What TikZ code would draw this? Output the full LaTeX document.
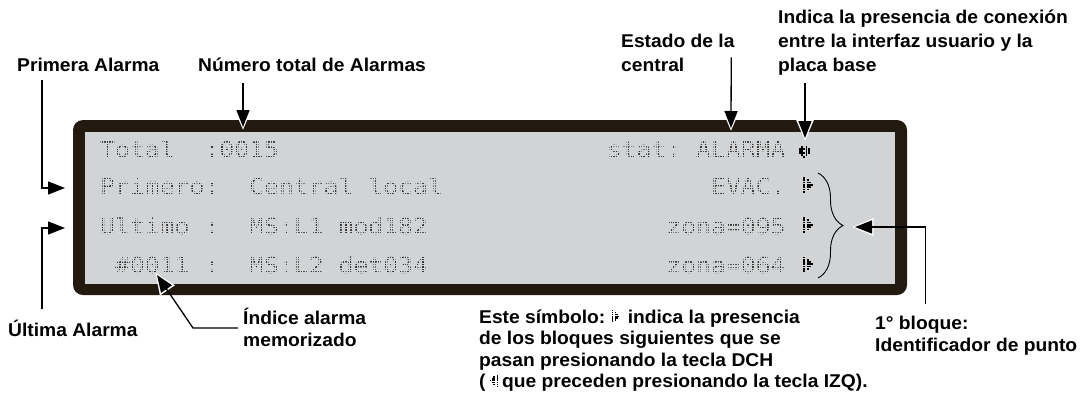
\documentclass[tikz,border=0pt]{standalone}
\usepackage{fontspec}
\setmainfont{Liberation Sans}[FakeStretch=1.04]
\newfontfamily\lcdfont{DejaVu Sans Mono}[FakeStretch=1.125]
\usetikzlibrary{arrows.meta,decorations.pathreplacing,calc}
\definecolor{framec}{HTML}{221A0E}
\definecolor{lcdbg}{HTML}{D1D3D4}
\definecolor{lcdtxt}{HTML}{383838}
\tikzset{
  lbl/.style={font=\fontsize{18.5}{21.5}\selectfont\bfseries, inner sep=0pt, anchor=base west},
  lcd/.style={font=\lcdfont\fontsize{22}{26}\selectfont, text=lcdtxt, inner sep=0pt, anchor=base west},
  arr/.style={line width=1.3pt, -{Triangle[length=17pt,width=13pt]}},
  halo/.style={white, line width=0.1pt, shorten >=-2.5pt, -{Triangle[length=21pt,width=18pt]}},
  gridl/.style={lcdbg, line width=0.75pt},
  pics/rsym/.style={code={
    \foreach \c/\r in {0/0,0/1,0/2,0/3,0/4,0/5,0/6,2/1,2/2,2/3,2/4,2/5,3/2,3/3,3/4,4/3}{
      \fill (\c*2,\r*2.3) rectangle ++(1.5,1.7);
    }}},
  pics/csym/.style={code={
    \foreach \c/\r in {1/0,3/0,0/1,1/1,2/1,3/1,4/1,0/2,1/2,3/2,4/2,0/3,1/3,2/3,3/3,4/3,1/4,3/4,2/5}{
      \fill (\c*2.2,\r*2.0) rectangle ++(1.7,1.6);
    }}},
}
\newcommand\lcdput[4]{\node[lcd] (#1) at ({100+14.9*#2},#3) {#4};}
\begin{document}
\begin{tikzpicture}[x=1pt,y=-1pt]
\useasboundingbox (0,0) rectangle (1081,394);

% display
\fill[framec, rounded corners=10pt] (73,120) rectangle (907,295);
\fill[lcdbg] (85,132) rectangle (895,284);

% LCD rows
\lcdput{r1a}{0}{157}{Total}
\lcdput{r1b}{7}{157}{:0015}
\lcdput{r1c}{34}{157}{stat:}
\lcdput{r1d}{40}{157}{ALARMA}
\lcdput{r2a}{0}{194}{Primero:}
\lcdput{r2b}{10}{194}{Central}
\lcdput{r2c}{18}{194}{local}
\lcdput{r2d}{41}{194}{EVAC.}
\lcdput{r3a}{0}{234}{Ultimo}
\lcdput{r3b}{7}{234}{:}
\lcdput{r3c}{10}{234}{MS:L1}
\lcdput{r3d}{16}{234}{mod182}
\lcdput{r3e}{38}{234}{zona=095}
\lcdput{r4a}{1}{273.5}{\#0011}
\lcdput{r4b}{7}{273.5}{:}
\lcdput{r4c}{10}{273.5}{MS:L2}
\lcdput{r4d}{16}{273.5}{det034}
\lcdput{r4e}{38}{273.5}{zona=064}

% dot-matrix grid over the LCD text
\foreach \k in {0,...,61} \draw[gridl] (86,{133.2+2.45*\k}) -- (792,{133.2+2.45*\k});
\foreach \k in {0,...,279} \draw[gridl] ({98.8+2.483*\k},133) -- ({98.8+2.483*\k},283);

% symbols in the display
\pic at (799,146) {csym};
\pic at (803,177) {rsym};
\pic at (803,217) {rsym};
\pic at (803,256.5) {rsym};

% brace
\coordinate (br1) at (818,173);
\coordinate (br2) at (818,278);
\draw[line width=0.9pt, decorate, decoration={brace, amplitude=25pt}] (br1) -- (br2);

% labels
\node[lbl] (pa) at (17,71) {Primera Alarma};
\node[lbl] (nt) at (198,71) {Número total de Alarmas};
\node[lbl] (ed1) at (621,47) {Estado de la};
\node[lbl] (ed2) at (621,71) {central};
\node[lbl] (ic1) at (778,23.5) {Indica la presencia de conexión};
\node[lbl] (ic2) at (778,47.5) {entre la interfaz usuario y la};
\node[lbl] (ic3) at (778,71) {placa base};
\node[lbl] (ua) at (8,336) {Última Alarma};
\node[lbl] (ia1) at (243,324) {Índice alarma};
\node[lbl] (ia2) at (243,346) {memorizado};
\node[lbl] (b1) at (875,329) {1° bloque:};
\node[lbl] (b2) at (875,351) {Identificador de punto};

\node[lbl] (es1) at (479,323) {Este símbolo:};
\pic[scale=0.8] at ($(es1.base east)+(6pt,13pt)$) {rsym};
\node[lbl] (es1b) at ($(es1.base east)+(22pt,0pt)$) {indica la presencia};
\node[lbl] (es2) at (479,344.5) {de los bloques siguientes que se};
\node[lbl] (es3) at (479,366) {pasan presionando la tecla DCH};
\node[lbl] (es4) at (479,387.5) {(};
\pic[xscale=-0.8,yscale=0.8] at ($(es4.base east)+(12pt,13pt)$) {rsym};
\node[lbl] (es4b) at ($(es4.base east)+(16pt,0pt)$) {que preceden presionando la tecla IZQ).};

% arrow targets
\coordinate (tprim) at (65,188);
\coordinate (tult) at (65,228);
\coordinate (tnum) at (243,127);
\coordinate (test) at (731,128);
\coordinate (tind) at (805,138);
\coordinate (tidx) at (157,275);
\coordinate (tbq) at (855,227);

% connectors (white halo first, then black)
\draw[halo] ($(pa.south west)+(25pt,-9pt)$) |- (tprim);
\draw[arr]  ($(pa.south west)+(25pt,-9pt)$) |- (tprim);
\draw[halo] ($(nt.south -| tnum)+(0pt,-12pt)$) -- (tnum);
\draw[arr]  ($(nt.south -| tnum)+(0pt,-12pt)$) -- (tnum);
\draw[halo] ($(ed1.south east)+(-3.5pt,-10pt)$) -- (test);
\draw[arr]  ($(ed1.south east)+(-3.5pt,-10pt)$) -- (test);
\draw[halo] ($(ic3.south west)+(27pt,-8pt)$) -- (tind);
\draw[arr]  ($(ic3.south west)+(27pt,-8pt)$) -- (tind);
\draw[halo] ($(ua.north west)+(34pt,10pt)$) |- (tult);
\draw[arr]  ($(ua.north west)+(34pt,10pt)$) |- (tult);
\draw[halo] ($(ia1.base west)+(-5pt,-4pt)$) -- ++(-45pt,0pt) -- (tidx);
\draw[arr]  ($(ia1.base west)+(-5pt,-4pt)$) -- ++(-45pt,0pt) -- (tidx);
\draw[halo] ($(b1.north)+(4pt,11pt)$) |- (tbq);
\draw[arr]  ($(b1.north)+(4pt,11pt)$) |- (tbq);
\end{tikzpicture}
\end{document}
